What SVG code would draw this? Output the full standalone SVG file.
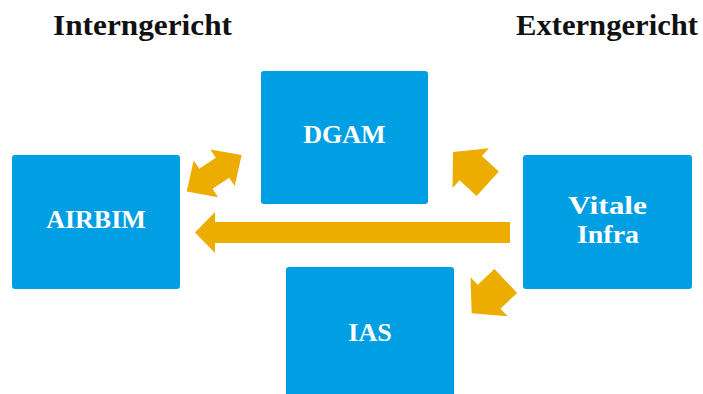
<svg xmlns="http://www.w3.org/2000/svg" width="703" height="394" viewBox="0 0 703 394">
<style>
.box{fill:#009FE3}
.lbl{font-family:"Liberation Serif",serif;font-weight:bold;font-size:26px;fill:#ffffff;text-anchor:middle}
.hd{font-family:"Liberation Serif",serif;font-weight:bold;font-size:29px;fill:#111111}
.arr{fill:#ECAC00}
</style>
<rect width="703" height="394" fill="#ffffff"/>
<text class="hd" x="53" y="35" textLength="179" lengthAdjust="spacingAndGlyphs">Interngericht</text>
<text class="hd" x="516" y="35" textLength="182" lengthAdjust="spacingAndGlyphs">Externgericht</text>
<g id="airbim"><rect class="box" x="12" y="155" width="168" height="134" rx="3"/><text class="lbl" x="96" y="228">AIRBIM</text></g>
<g id="dgam"><rect class="box" x="261" y="71" width="167" height="133" rx="3"/><text class="lbl" x="344.5" y="143">DGAM</text></g>
<g id="ias"><rect class="box" x="286" y="267" width="168" height="140" rx="3"/><text class="lbl" x="370" y="341">IAS</text></g>
<g id="vitale"><rect class="box" x="523" y="155" width="169" height="134" rx="3"/><text class="lbl" x="607.5" y="214" textLength="79" lengthAdjust="spacingAndGlyphs">Vitale</text><text class="lbl" x="608" y="243" textLength="62" lengthAdjust="spacingAndGlyphs">Infra</text></g>
<g id="connectors">
<polygon class="arr" points="195,232.5 215,212 215,222 510,222 510,243 215,243 215,253"/>
<polygon class="arr" transform="translate(214.2,173.3) rotate(-33.7)" points="33,0 10,-22 10,-12 -10,-12 -10,-22 -33,0 -10,22 -10,12 10,12 10,22"/>
<polygon class="arr" transform="translate(453,152) rotate(222.4)" points="0,0 -24,-27 -24,-16.5 -47,-16.5 -47,16.5 -24,16.5 -24,27"/>
<polygon class="arr" transform="translate(471.7,313.3) rotate(136.5)" points="0,0 -24,-27 -24,-16.5 -47,-16.5 -47,16.5 -24,16.5 -24,27"/>
</g>
</svg>
